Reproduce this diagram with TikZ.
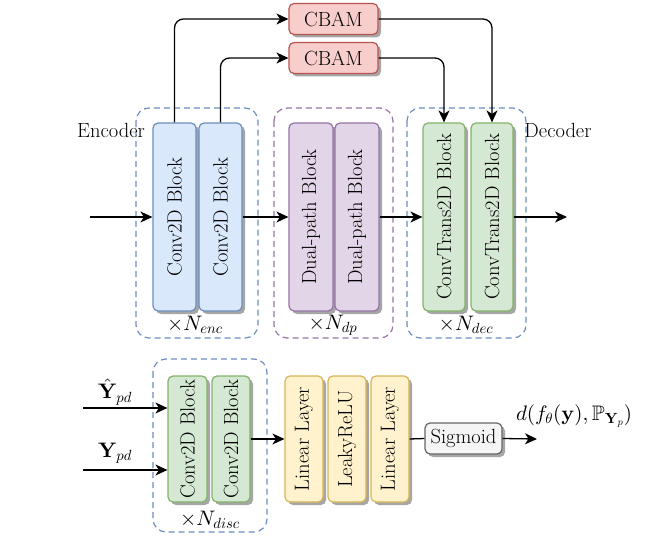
\documentclass[tikz,border=0pt]{standalone}
\usepackage{amsmath,amssymb}
\DeclareFontFamily{OT1}{cmr}{\hyphenchar\font45 }
\DeclareFontShape{OT1}{cmr}{m}{n}{<-> cmr10}{}
\DeclareFontShape{OT1}{cmr}{bx}{n}{<-> cmbx10}{}
\DeclareFontFamily{OML}{cmm}{\skewchar\font127 }
\DeclareFontShape{OML}{cmm}{m}{it}{<-> cmmi10}{}
\DeclareFontFamily{OMS}{cmsy}{\skewchar\font48 }
\DeclareFontShape{OMS}{cmsy}{m}{n}{<-> cmsy10}{}
\DeclareFontFamily{OMX}{cmex}{}
\DeclareFontShape{OMX}{cmex}{m}{n}{<-> cmex10}{}
\DeclareFontFamily{U}{msb}{}
\DeclareFontShape{U}{msb}{m}{n}{<-> msbm10}{}
\usetikzlibrary{arrows.meta,shadows,positioning}
\definecolor{bfill}{HTML}{DAE8FC}\definecolor{bline}{HTML}{6C8EBF}
\definecolor{pfill}{HTML}{E1D5E7}\definecolor{pline}{HTML}{9673A6}
\definecolor{gfill}{HTML}{D5E8D4}\definecolor{gline}{HTML}{82B366}
\definecolor{rfill}{HTML}{F8CECC}\definecolor{rline}{HTML}{B85450}
\definecolor{yfill}{HTML}{FFF2CC}\definecolor{yline}{HTML}{D6B656}
\definecolor{sfill}{HTML}{F5F5F5}\definecolor{sline}{HTML}{666666}
\begin{document}
\begin{tikzpicture}[x=1pt,y=-1pt,
  every node/.style={font=\fontsize{20.5}{23}\selectfont, inner sep=0pt},
  mth/.style={font=\fontsize{21}{24}\selectfont},
  blk/.style={draw, line width=1.2pt, rounded corners=5pt,
    drop shadow={shadow xshift=3pt, shadow yshift=-3pt, fill=black!35, opacity=1}},
  blue/.style={blk, fill=bfill, draw=bline},
  purp/.style={blk, fill=pfill, draw=pline},
  green/.style={blk, fill=gfill, draw=gline},
  red/.style={blk, fill=rfill, draw=rline},
  yell/.style={blk, fill=yfill, draw=yline},
  grey/.style={blk, fill=sfill, draw=sline},
  grp/.style={draw, dash pattern=on 6pt off 4pt, line width=1.2pt, rounded corners=13pt},
  arr/.style={line width=1.3pt, -{Stealth[length=12pt,width=11pt,inset=3.5pt]}},
  ln/.style={line width=1.3pt}
]
\useasboundingbox (0,0) rectangle (666,537);

% group boxes
\draw[grp, draw=bline] (136,108) rectangle (258,338);
\draw[grp, draw=pline] (274,108) rectangle (393,338);
\draw[grp, draw=bline] (407,108) rectangle (526,338);
\draw[grp, draw=bline] (153,359) rectangle (267,532);

% encoder
\node[blue, minimum width=43pt, minimum height=188pt] (e1) at (174.5,217) {};
\node[rotate=90] (e1t) at (e1) {Conv2D Block};
\node[blue, minimum width=43pt, minimum height=188pt] (e2) at (220.5,217) {};
\node[rotate=90] (e2t) at (e2) {Conv2D Block};
% dual-path
\node[purp, minimum width=44pt, minimum height=188pt] (d1) at (311,217) {};
\node[rotate=90] (d1t) at (d1) {Dual-path Block};
\node[purp, minimum width=44pt, minimum height=188pt] (d2) at (357,217) {};
\node[rotate=90] (d2t) at (d2) {Dual-path Block};
% decoder
\node[green, minimum width=42pt, minimum height=188pt] (c1) at (444,217) {};
\node[rotate=90] (c1t) at (c1) {ConvTrans2D Block};
\node[green, minimum width=42pt, minimum height=188pt] (c2) at (492,217) {};
\node[rotate=90] (c2t) at (c2) {ConvTrans2D Block};
% CBAM
\node[red, minimum width=89pt, minimum height=31pt] (cb1) at (333.5,19) {CBAM};
\node[red, minimum width=89pt, minimum height=31pt] (cb2) at (333.5,58) {CBAM};

% labels
\node (enc) at (111,130) {Encoder};
\node (dec) at (558,130) {Decoder};
\node[mth] (ne) at (195,325) {$\times N_{enc}$};
\node[mth] (nd) at (333,325) {$\times N_{dp}$};
\node[mth] (ndc) at (466,325) {$\times N_{dec}$};

% connectors top
\coordinate (in) at (90,217);
\coordinate (out) at (567,217);
\draw[arr] (in) -- (e1.west);
\draw[arr] (e2.east) -- (d1.west);
\draw[arr] (d2.east) -- (c1.west);
\draw[arr] (c2.east) -- (out);
\draw[arr, rounded corners=9pt] (e1.north) |- (cb1.west);
\draw[arr, rounded corners=9pt] (e2.north) |- (cb2.west);
\draw[arr, rounded corners=9pt] (cb1.east) -| (c2.north);
\draw[arr, rounded corners=9pt] (cb2.east) -| (c1.north);

% discriminator
\node[green, minimum width=39pt, minimum height=126pt] (g1) at (187.5,439) {};
\node[rotate=90] (g1t) at (g1) {Conv2D Block};
\node[green, minimum width=38pt, minimum height=126pt] (g2) at (231,439) {};
\node[rotate=90] (g2t) at (g2) {Conv2D Block};
\node[mth] (nds) at (210,520) {$\times N_{disc}$};

\node[yell, minimum width=38pt, minimum height=126pt] (l1) at (304,439) {};
\node[rotate=90] (l1t) at (l1) {Linear Layer};
\node[yell, minimum width=38pt, minimum height=126pt] (l2) at (347,439) {};
\node[rotate=90] (l2t) at (l2) {LeakyReLU};
\node[yell, minimum width=38pt, minimum height=126pt] (l3) at (390,439) {};
\node[rotate=90] (l3t) at (l3) {Linear Layer};
\node[grey, minimum width=77pt, minimum height=31pt] (sig) at (463.5,438.5) {Sigmoid};

\node[mth] (yh) at (115,392) {$\hat{\mathbf{Y}}_{pd}$};
\node[mth] (yy) at (115,453) {$\mathbf{Y}_{pd}$};
\node[mth] (dout) at (574,416) {$d(f_\theta(\mathbf{y}),\mathbb{P}_{\mathbf{Y}_p})$};

\coordinate (i1) at (83,408);
\coordinate (i2) at (83,470);
\coordinate (o2) at (537,439);
\draw[arr] (i1) -- (g1.west |- i1);
\draw[arr] (i2) -- (g1.west |- i2);
\draw[arr] (g2.east) -- (l1.west);
\draw[ln] (l3.east) -- (sig.west);
\draw[arr] (sig.east) -- (o2);
\end{tikzpicture}
\end{document}
